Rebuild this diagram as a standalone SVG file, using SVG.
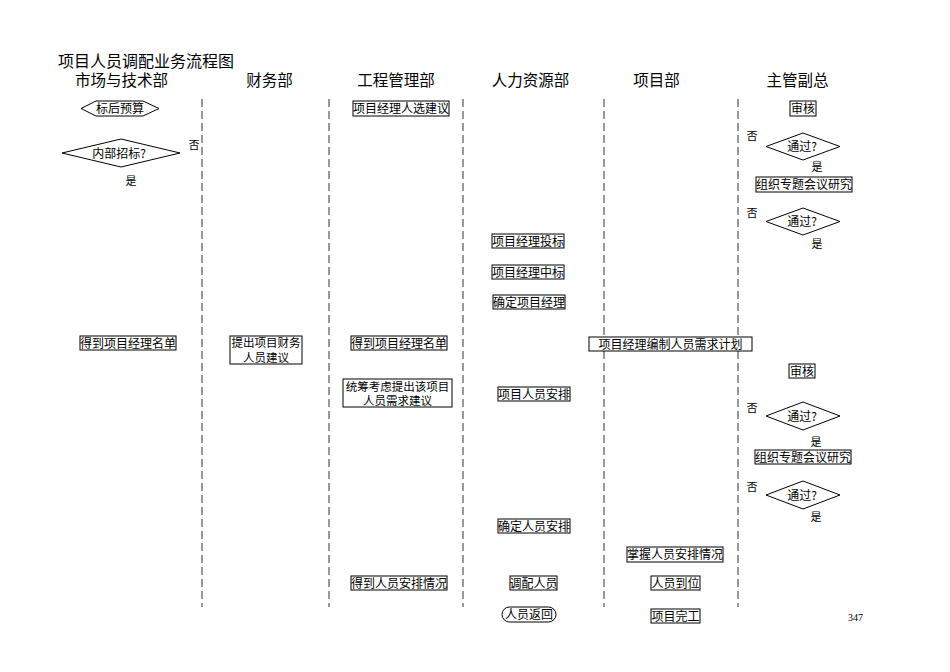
<svg xmlns="http://www.w3.org/2000/svg" width="950" height="672" viewBox="0 0 950 672">
<style>
text{font-family:"Noto Sans CJK SC","Liberation Sans",sans-serif;fill:#000}
.t{font-size:16px}
.h{font-size:15.5px;text-anchor:middle}
.n{font-size:12px;text-anchor:middle}
.m{font-size:11.5px;text-anchor:middle}
.l{font-size:11px;text-anchor:middle}
.b{fill:#fff;stroke:#000;stroke-width:1}
.lane{stroke:#333;stroke-width:1;stroke-dasharray:8 4;fill:none}
</style>
<rect width="950" height="672" fill="#fff"/>
<g id="title"><text class="t" x="58" y="67">项目人员调配业务流程图</text></g>
<g id="headers">
<text class="h" x="121.5" y="86">市场与技术部</text>
<text class="h" x="269.5" y="86">财务部</text>
<text class="h" x="396" y="86">工程管理部</text>
<text class="h" x="530.5" y="86">人力资源部</text>
<text class="h" x="656.5" y="86">项目部</text>
<text class="h" x="797.5" y="86">主管副总</text>
</g>
<g id="connectors">
<line class="lane" x1="202" y1="99" x2="202" y2="607"/>
<line class="lane" x1="329" y1="99" x2="329" y2="607"/>
<line class="lane" x1="463" y1="99" x2="463" y2="607"/>
<line class="lane" x1="604" y1="99" x2="604" y2="607"/>
<line class="lane" x1="738" y1="99" x2="738" y2="607"/>
</g>
<g id="n-biaohou"><polygon class="b" points="81,108.5 96,101 143,101 159,108.5 143,116 96,116"/><text class="n" x="120" y="113">标后预算</text></g>
<g id="n-neibu"><polygon class="b" points="62,153 121,139 180,153 121,167"/><text class="n" x="119" y="157.5">内部招标?</text></g>
<g id="lbl1"><text class="l" x="194" y="149">否</text><text class="l" x="131" y="185">是</text></g>
<g id="n-xuanjian"><rect class="b" x="353" y="101" width="96" height="15"/><text class="n" x="401" y="113">项目经理人选建议</text></g>
<g id="n-shenhe1"><rect class="b" x="790" y="101" width="26" height="15"/><text class="n" x="803" y="113">审核</text></g>
<g id="n-tongguo1"><polygon class="b" points="766,146.5 803,133 840,146.5 803,160"/><text class="n" x="802" y="151">通过?</text></g>
<g id="lbl2"><text class="l" x="752" y="139.5">否</text><text class="l" x="817" y="171">是</text></g>
<g id="n-zuzhi1"><rect class="b" x="756" y="177" width="96" height="15"/><text class="n" x="804" y="189">组织专题会议研究</text></g>
<g id="n-tongguo2"><polygon class="b" points="766,221.5 803,208 840,221.5 803,235"/><text class="n" x="802" y="226">通过?</text></g>
<g id="lbl3"><text class="l" x="752" y="216.5">否</text><text class="l" x="817" y="248">是</text></g>
<g id="n-toubiao"><rect class="b" x="492" y="234" width="72" height="14"/><text class="n" x="528" y="245.5">项目经理投标</text></g>
<g id="n-zhongbiao"><rect class="b" x="492" y="265" width="72" height="14"/><text class="n" x="528" y="276.5">项目经理中标</text></g>
<g id="n-queding"><rect class="b" x="493" y="295" width="72" height="14"/><text class="n" x="529" y="306.5">确定项目经理</text></g>
<g id="n-mingdan1"><rect class="b" x="80" y="336" width="96" height="14"/><text class="n" x="128" y="347.5">得到项目经理名单</text></g>
<g id="n-caiwu"><rect class="b" x="230" y="336" width="72" height="28"/><text class="m" x="266" y="347">提出项目财务</text><text class="m" x="266" y="361.5">人员建议</text></g>
<g id="n-mingdan2"><rect class="b" x="351" y="336" width="96" height="14"/><text class="n" x="399" y="347.5">得到项目经理名单</text></g>
<g id="n-bianzhi"><rect class="b" x="589" y="337" width="163" height="14"/><text class="n" x="670.5" y="348.5">项目经理编制人员需求计划</text></g>
<g id="n-shenhe2"><rect class="b" x="789" y="364" width="26" height="14"/><text class="n" x="802" y="375.5">审核</text></g>
<g id="n-tongchou"><rect class="b" x="343" y="379" width="109" height="28"/><text class="m" x="397.5" y="390.5">统筹考虑提出该项目</text><text class="m" x="397.5" y="405">人员需求建议</text></g>
<g id="n-anpai1"><rect class="b" x="498" y="387" width="72" height="14"/><text class="n" x="534" y="398.5">项目人员安排</text></g>
<g id="n-tongguo3"><polygon class="b" points="766,416 803,402 840,416 803,430"/><text class="n" x="802" y="420.5">通过?</text></g>
<g id="lbl4"><text class="l" x="752" y="412">否</text><text class="l" x="816" y="446">是</text></g>
<g id="n-zuzhi2"><rect class="b" x="755" y="450" width="96" height="14"/><text class="n" x="803" y="461.5">组织专题会议研究</text></g>
<g id="n-tongguo4"><polygon class="b" points="766,495 803,481 840,495 803,509"/><text class="n" x="802" y="499.5">通过?</text></g>
<g id="lbl5"><text class="l" x="752" y="491">否</text><text class="l" x="816" y="521">是</text></g>
<g id="n-anpai2"><rect class="b" x="498" y="519" width="72" height="14"/><text class="n" x="534" y="530.5">确定人员安排</text></g>
<g id="n-zhangwo"><rect class="b" x="627" y="547" width="96" height="15"/><text class="n" x="675" y="559">掌握人员安排情况</text></g>
<g id="n-qingkuang"><rect class="b" x="351" y="576" width="96" height="14"/><text class="n" x="399" y="587.5">得到人员安排情况</text></g>
<g id="n-diaopei"><rect class="b" x="510" y="576" width="47" height="14"/><text class="n" x="533.5" y="587.5">调配人员</text></g>
<g id="n-daowei"><rect class="b" x="651" y="576" width="49" height="14"/><text class="n" x="675.5" y="587.5">人员到位</text></g>
<g id="n-fanhui"><rect class="b" x="502" y="607" width="54" height="15" rx="7.5" ry="7.5"/><text class="n" x="529" y="619">人员返回</text></g>
<g id="n-wangong"><rect class="b" x="651" y="609" width="49" height="14"/><text class="n" x="675.5" y="620.5">项目完工</text></g>
<g id="page"><text x="848" y="621" style="font-family:'Liberation Serif',serif;font-size:10px">347</text></g>
</svg>
